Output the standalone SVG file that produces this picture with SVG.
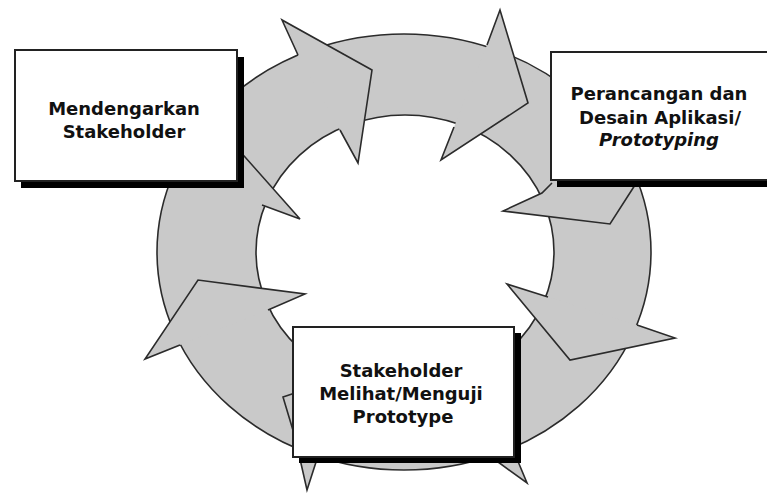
<svg xmlns="http://www.w3.org/2000/svg" width="767" height="494" viewBox="0 0 767 494">
<style>
.ring{fill:#c9c9c9;stroke:#2b2b2b;stroke-width:1.6;fill-rule:evenodd}
.hf{fill:#c9c9c9;stroke:none}
.hs{fill:none;stroke:#2b2b2b;stroke-width:1.6;stroke-linejoin:miter}
.tri{fill:#c9c9c9;stroke:#2b2b2b;stroke-width:1.6}
.shadow{fill:#000}
.box{fill:#fff;stroke:#222;stroke-width:2}
.lbl{font-family:"DejaVu Sans","Liberation Sans",sans-serif;font-weight:700;font-size:18px;fill:#111;text-anchor:middle}
.it{font-style:italic}
</style>
<rect width="767" height="494" fill="#fff"/>
<g id="connectors">
  <path id="ring" class="ring" d="M157,252 A247,218 0 1,0 651,252 A247,218 0 1,0 157,252 Z M256,252 A149,137 0 1,0 554,252 A149,137 0 1,0 256,252 Z"/>
  <g id="head-a">
    <polygon class="hf" points="298,55 282,20 372,70 358,163 340,130"/>
    <polyline class="hs" points="298,55 282,20 372,70 358,163 340,130"/>
  </g>
  <g id="head-b">
    <polygon class="hf" points="487,45 500,10 528,103 441,160 454,127"/>
    <polyline class="hs" points="487,45 500,10 528,103 441,160 454,127"/>
  </g>
  <g id="head-c">
    <polygon class="hf" points="552,183 542,193 503,211 610,224 635,185 640,160 555,160"/>
    <polyline class="hs" points="552,183 542,193 503,211 610,224 635,185"/>
  </g>
  <g id="head-d">
    <polygon class="hf" points="548,297 507,284 570,360 675,338 637,325"/>
    <polyline class="hs" points="548,297 507,284 570,360 675,338 637,325"/>
  </g>
  <g id="head-e">
    <polyline class="hs" points="295,393 283,397 295,437"/>
    <polygon class="tri" points="300,459 307,490 317,459"/>
    <polygon class="tri" points="494,459 527,483 517,459"/>
  </g>
  <g id="head-f">
    <polygon class="hf" points="180,345 145,359 198,280 305,294 268,310"/>
    <polyline class="hs" points="180,345 145,359 198,280 305,294 268,310"/>
  </g>
  <g id="head-g">
    <polygon class="hf" points="262,205 300,219 237,148 230,150 230,190 245,195"/>
    <polyline class="hs" points="237,148 300,219 262,205"/>
  </g>
</g>
<g id="node-mendengarkan">
  <rect class="shadow" x="21" y="57" width="223" height="131"/>
  <rect class="box" x="15" y="50" width="222" height="131"/>
  <text class="lbl" x="124" y="115">Mendengarkan</text>
  <text class="lbl" x="124" y="138">Stakeholder</text>
</g>
<g id="node-perancangan">
  <rect class="shadow" x="557" y="59" width="230" height="128"/>
  <rect class="box" x="551" y="52" width="230" height="128"/>
  <text class="lbl" x="659" y="100">Perancangan dan</text>
  <text class="lbl" x="660" y="124">Desain Aplikasi/</text>
  <text class="lbl it" x="659" y="146">Prototyping</text>
</g>
<g id="node-stakeholder">
  <rect class="shadow" x="299" y="333" width="222" height="130"/>
  <rect class="box" x="293" y="327" width="221" height="130"/>
  <text class="lbl" x="401" y="377">Stakeholder</text>
  <text class="lbl" x="401" y="400">Melihat/Menguji</text>
  <text class="lbl" x="403" y="423">Prototype</text>
</g>
</svg>
